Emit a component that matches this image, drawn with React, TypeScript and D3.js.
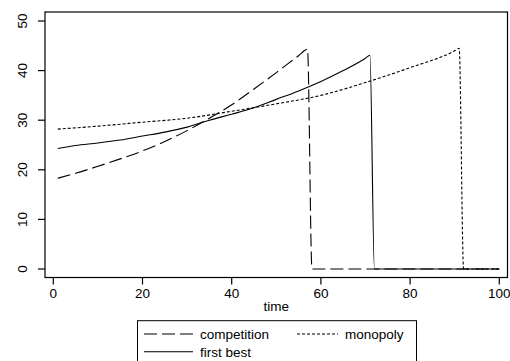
import React from "react";
import * as d3 from "d3";

// values
const compTime = [1, 5, 10, 15, 20, 25, 30, 35, 40, 45, 50, 55, 57, 58, 100];
const compVal = [18.3, 19.3, 20.7, 22.2, 23.8, 25.7, 27.9, 30.4, 33.1, 36.3, 39.6, 43.0, 44.3, 0, 0];

const firstTime = [1, 5, 10, 15, 20, 25, 30, 35, 40, 45, 50, 55, 60, 65, 70, 71, 72, 100];
const firstVal = [24.3, 24.9, 25.4, 26.0, 26.8, 27.6, 28.6, 30.0, 31.2, 32.5, 34.2, 35.9, 37.8, 40.0, 42.5, 43.1, 0, 0];

const monoTime = [1, 10, 20, 30, 40, 50, 60, 70, 80, 90, 91, 92, 100];
const monoVal = [28.2, 28.8, 29.6, 30.4, 31.8, 33.3, 35.0, 37.6, 40.6, 44.0, 44.5, 0, 0];

const xTicks = [0, 20, 40, 60, 80, 100];
const yTicks = [0, 10, 20, 30, 40, 50];

const W = 510;
const H = 361;
const box = { left: 45, right: 507.5, top: 12, bottom: 277.5 };
const font = "'Liberation Sans', Arial, sans-serif";

export default function App() {
  const x = d3.scaleLinear().domain([0, 100]).range([53.3, 499.3]);
  const y = d3.scaleLinear().domain([0, 50]).range([269, 21]);

  const line = d3
    .line<[number, number]>()
    .x((d) => x(d[0]))
    .y((d) => y(d[1]))
    .curve(d3.curveMonotoneX);

  const series = [
    { name: "competition", t: compTime, v: compVal, dash: "13,5" },
    { name: "first best", t: firstTime, v: firstVal, dash: "" },
    { name: "monopoly", t: monoTime, v: monoVal, dash: "3,2" },
  ];

  return (
    <svg
      width={W}
      height={H}
      style={{ position: "absolute", left: 0, top: 0, background: "#fff" }}
      fontFamily={font}
    >
      <rect x={0} y={0} width={W} height={H} fill="#fff" />
      {series.map((s) => (
        <path
          key={s.name}
          d={line(s.t.map((t, i) => [t, s.v[i]] as [number, number])) || ""}
          fill="none"
          stroke="#000"
          strokeWidth={1.1}
          strokeDasharray={s.dash || undefined}
        />
      ))}

      {/* plot box */}
      <rect
        x={box.left}
        y={box.top}
        width={box.right - box.left}
        height={box.bottom - box.top}
        fill="none"
        stroke="#000"
        strokeWidth={1.2}
      />

      {/* x axis */}
      {xTicks.map((t) => (
        <g key={"x" + t}>
          <line x1={x(t)} x2={x(t)} y1={box.bottom} y2={box.bottom + 7} stroke="#000" strokeWidth={1.2} />
          <text x={x(t)} y={298} textAnchor="middle" fontSize={13.5}>
            {t}
          </text>
        </g>
      ))}
      <text x={(box.left + box.right) / 2} y={311} textAnchor="middle" fontSize={13.5}>
        time
      </text>

      {/* y axis */}
      {yTicks.map((t) => (
        <g key={"y" + t}>
          <line x1={box.left} x2={box.left - 7} y1={y(t)} y2={y(t)} stroke="#000" strokeWidth={1.2} />
          <text
            transform={`translate(27,${y(t)}) rotate(-90)`}
            textAnchor="middle"
            fontSize={13.5}
          >
            {t}
          </text>
        </g>
      ))}

      {/* legend */}
      <g>
        <rect x={137.5} y={320.7} width={279} height={50} fill="#fff" stroke="#000" strokeWidth={1} />
        <line x1={144} x2={193} y1={334} y2={334} stroke="#000" strokeWidth={1.1} strokeDasharray="13,5" />
        <text x={200} y={339} fontSize={13.5}>competition</text>
        <line x1={144} x2={193} y1={351.7} y2={351.7} stroke="#000" strokeWidth={1.1} />
        <text x={200} y={356.5} fontSize={13.5}>first best</text>
        <line x1={297} x2={338} y1={334} y2={334} stroke="#000" strokeWidth={1.1} strokeDasharray="3,2" />
        <text x={345} y={339} fontSize={13.5}>monopoly</text>
      </g>
    </svg>
  );
}
